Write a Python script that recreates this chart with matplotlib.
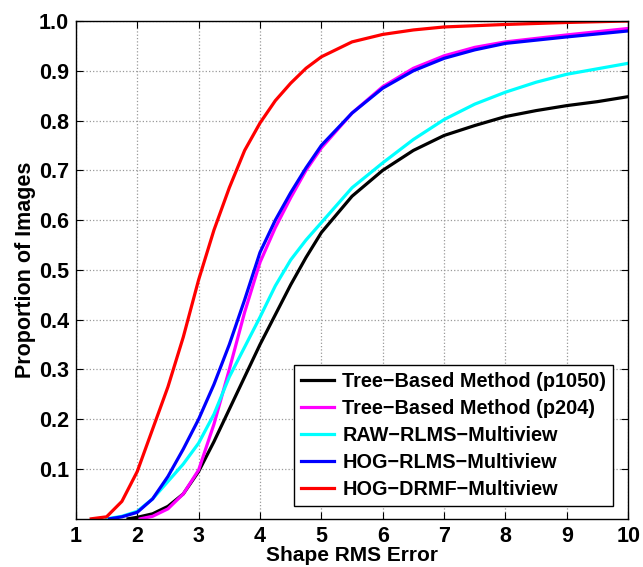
import numpy as np
import matplotlib
matplotlib.use("Agg")
import matplotlib.pyplot as plt

plt.rcParams['font.family'] = ['Liberation Sans', 'DejaVu Sans']
plt.rcParams['font.weight'] = 'bold'

# CED curves (x = shape RMS error, y = proportion)
x_red = [1.25, 1.5, 1.75, 2.0, 2.25, 2.5, 2.75, 3.0, 3.25, 3.5, 3.75, 4.0, 4.25, 4.5, 4.75, 5.0, 5.5, 6.0, 6.5, 7.0, 8.0, 9.0, 10.0]
y_red = [0.0, 0.004, 0.035, 0.095, 0.18, 0.265, 0.365, 0.48, 0.58, 0.665, 0.74, 0.795, 0.84, 0.875, 0.905, 0.928, 0.958, 0.973, 0.982, 0.988, 0.993, 0.997, 1.0]

x_blue = [1.55, 1.75, 2.0, 2.25, 2.5, 2.75, 3.0, 3.25, 3.5, 3.75, 4.0, 4.25, 4.5, 4.75, 5.0, 5.5, 6.0, 6.5, 7.0, 7.5, 8.0, 9.0, 10.0]
y_blue = [0.0, 0.004, 0.013, 0.04, 0.085, 0.14, 0.2, 0.27, 0.35, 0.44, 0.535, 0.6, 0.655, 0.705, 0.75, 0.815, 0.865, 0.9, 0.925, 0.942, 0.955, 0.968, 0.98]

x_mag = [2.05, 2.25, 2.5, 2.75, 3.0, 3.25, 3.5, 3.75, 4.0, 4.25, 4.5, 4.75, 5.0, 5.5, 6.0, 6.5, 7.0, 7.5, 8.0, 9.0, 10.0]
y_mag = [0.0, 0.005, 0.02, 0.05, 0.098, 0.19, 0.3, 0.415, 0.515, 0.585, 0.645, 0.7, 0.745, 0.815, 0.868, 0.905, 0.93, 0.947, 0.958, 0.972, 0.985]

x_cyan = [1.5, 1.75, 2.0, 2.25, 2.5, 2.75, 3.0, 3.25, 3.5, 3.75, 4.0, 4.25, 4.5, 4.75, 5.0, 5.5, 6.0, 6.5, 7.0, 7.5, 8.0, 8.5, 9.0, 10.0]
y_cyan = [0.0, 0.005, 0.015, 0.04, 0.075, 0.11, 0.152, 0.21, 0.285, 0.345, 0.405, 0.468, 0.52, 0.56, 0.595, 0.665, 0.715, 0.762, 0.802, 0.833, 0.857, 0.877, 0.893, 0.915]

x_black = [1.85, 2.0, 2.25, 2.5, 2.75, 3.0, 3.25, 3.5, 3.75, 4.0, 4.25, 4.5, 4.75, 5.0, 5.5, 6.0, 6.5, 7.0, 7.5, 8.0, 8.5, 9.0, 9.5, 10.0]
y_black = [0.0, 0.003, 0.01, 0.025, 0.05, 0.095, 0.155, 0.22, 0.285, 0.35, 0.41, 0.47, 0.525, 0.575, 0.648, 0.70, 0.74, 0.77, 0.79, 0.808, 0.82, 0.83, 0.838, 0.848]

series = [
    ("Tree\u2212Based Method (p1050)", x_black, y_black, 'black'),
    ("Tree\u2212Based Method (p204)", x_mag, y_mag, '#ff00ff'),
    ("RAW\u2212RLMS\u2212Multiview", x_cyan, y_cyan, '#00ffff'),
    ("HOG\u2212RLMS\u2212Multiview", x_blue, y_blue, '#0000ff'),
    ("HOG\u2212DRMF\u2212Multiview", x_red, y_red, '#ff0000'),
]

xticks = [1, 2, 3, 4, 5, 6, 7, 8, 9, 10]
yticks = [0.1, 0.2, 0.3, 0.4, 0.5, 0.6, 0.7, 0.8, 0.9, 1.0]

fig = plt.figure(figsize=(6.43, 5.67), dpi=100)
ax = fig.add_axes([0.118, 0.085, 0.859, 0.878])

for label, xs, ys, c in series:
    ax.plot(xs, ys, color=c, linewidth=2.3, label=label)

ax.set_xlim(1, 10)
ax.set_ylim(0, 1)
ax.set_xticks(xticks)
ax.set_yticks(yticks)
ax.set_yticklabels([f"{v:.1f}" for v in yticks])
ax.grid(True, linestyle=':', color='#999999', linewidth=0.9)
ax.tick_params(direction='in', top=True, right=True, length=5, width=0.8,
               labelsize=15.5, pad=5)
for lab in ax.get_xticklabels() + ax.get_yticklabels():
    lab.set_fontweight('bold')
for s in ax.spines.values():
    s.set_linewidth(1.0)

ax.set_xlabel("Shape RMS Error", fontsize=15, fontweight='bold', labelpad=-0.5)
ax.set_ylabel("Proportion of Images", fontsize=15.5, fontweight='bold', labelpad=2)

leg = ax.legend(loc='lower right', bbox_to_anchor=(0.973, 0.026), borderaxespad=0,
                fancybox=False, framealpha=1, edgecolor='black', fontsize=14.3,
                handlelength=1.7, handletextpad=0.4, labelspacing=0.4,
                borderpad=0.35)
leg.get_frame().set_linewidth(1.0)
for t in leg.get_texts():
    t.set_fontweight('bold')

fig.savefig("out.png", dpi=100)
